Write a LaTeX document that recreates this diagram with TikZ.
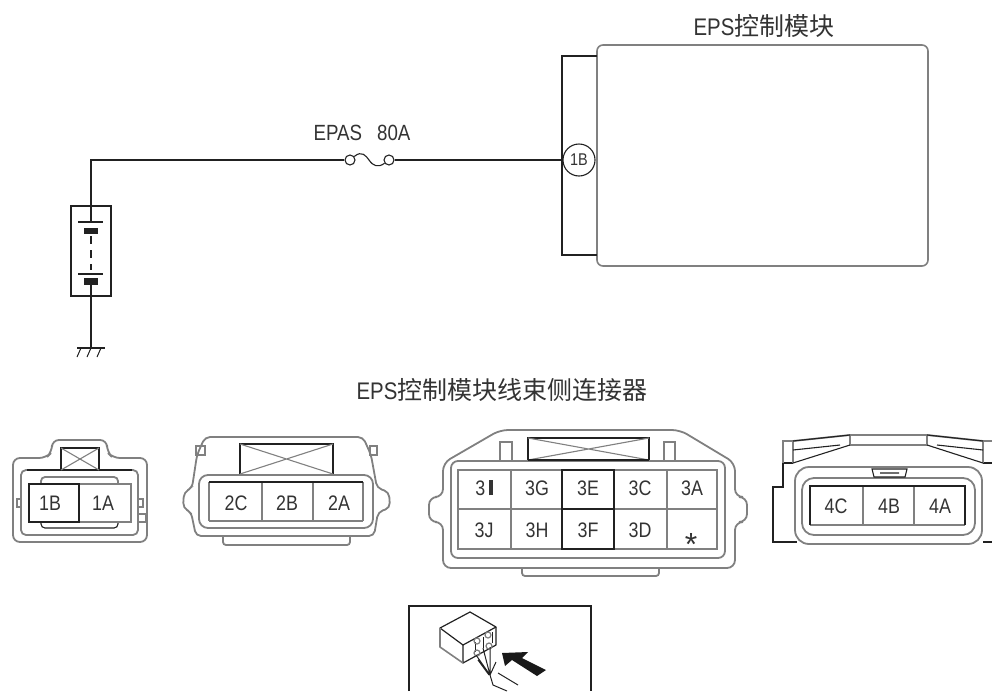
\documentclass[tikz,border=0pt]{standalone}
\usepackage{fontspec}
\setmainfont{Liberation Sans}
\newfontfamily\narrowfont{Liberation Sans}[FakeStretch=0.85]
\newfontfamily\cjk{Noto Sans CJK SC}
\definecolor{lineblack}{gray}{0.13}
\definecolor{linegray}{gray}{0.5}
\tikzset{
  wire/.style={draw=lineblack,line width=1.4pt},
  shell/.style={draw=linegray,line width=1.8pt,rounded corners=5pt},
  shellthin/.style={draw=lineblack,line width=1.1pt},
  cellbox/.style={draw=lineblack,line width=1.5pt},
  divider/.style={draw=linegray,line width=1.7pt},
  pinlabel/.style={inner sep=0pt,text=black!80,font=\narrowfont\fontsize{21}{21}\selectfont},
  caption/.style={inner sep=0pt,text=black!80,font=\narrowfont\fontsize{24}{26}\selectfont},
  terminal/.style={circle,draw=lineblack,line width=1.1pt,minimum size=10pt,inner sep=0pt,fill=white},
}
\begin{document}
\begin{tikzpicture}[x=1pt,y=-1pt]
    \useasboundingbox (0,0) rectangle (992,691);
    % control module and its connector
    \draw[draw=linegray,line width=1.6pt,rounded corners=6pt] (597,45) rectangle (928,266);
    \draw[wire] (597,56) -- (562,56) -- (562,255) -- (597,255);
    \node[caption] (moduletitle) at (764,26) {EPS{\cjk\fontsize{25}{25}\selectfont 控制模块}};
    \node[circle,draw=lineblack,line width=1.1pt,minimum size=32pt,inner sep=0pt,fill=white,
      font=\narrowfont\fontsize{17}{17}\selectfont,text=black!80] (pin1B) at (579,160) {1B};
    % fuse
    \node[terminal] (fuseL) at (350,160) {};
    \node[terminal] (fuseR) at (389,160) {};
    \node[pinlabel,font=\narrowfont\fontsize{22}{22}\selectfont] (fuselabel) at (362,133) {EPAS\hspace{15pt}80A};
    \draw[lineblack,line width=1.1pt] (fuseL) .. controls (362,150) and (366,156) .. (369,160)
      .. controls (373,166) and (378,168) .. (fuseR);
    \draw[wire] (fuseR) -- (pin1B);
    % battery
    \node[draw=lineblack,line width=1.4pt,minimum width=40pt,minimum height=90pt,inner sep=0pt] (battbox) at (91,251) {};
    \coordinate (plateA) at (91,222);
    \coordinate (plateB) at (91,285);
    \coordinate (ground) at (91,348);
    \draw[wire] (fuseL) -| (plateA);
    \draw[wire] (plateB) -- (ground);
    \draw[lineblack,line width=1.2pt] (78,222) -- (103,222);
    \fill[lineblack] (84,228) rectangle (98,233.5);
    \draw[lineblack,line width=1.4pt,dash pattern=on 8pt off 6pt] (91,236) -- (91,270);
    \draw[lineblack,line width=1.2pt] (78,274) -- (103,274);
    \fill[lineblack] (84,278) rectangle (98,285);
    \draw[lineblack,line width=1.2pt] (77,348) -- (105,348);
    \draw[lineblack,line width=1pt] (81,348) -- (77,357);
    \draw[lineblack,line width=1pt] (91,348) -- (87,357);
    \draw[lineblack,line width=1pt] (101,348) -- (97,357);
    \node[caption] (harnesstitle) at (502,390) {EPS{\cjk\fontsize{25}{25}\selectfont 控制模块线束侧连接器}};
    % connector 1
    \draw[shell,rounded corners=7pt] (13,475) -- (13,458) -- (46,458) -- (52,452) -- (52,440) -- (107,440) -- (107,452) -- (113,458) -- (147,458) -- (147,542) -- (13,542) -- cycle;
    \draw[shell] (21,470) rectangle (138,535);
    \draw[shellthin] (27,470) -- (132,470);
    \draw[shell,rounded corners=4pt] (41,484) -- (41,477) -- (118,477) -- (118,484);
    \draw[shellthin,rounded corners=4pt] (41,522) -- (41,528) -- (118,528) -- (118,522);
    \draw[shellthin,line width=1.4pt] (61,470) -- (61,448) -- (99,448) -- (99,470);
    \draw[linegray,line width=1.1pt] (61,448) -- (99,470) (99,448) -- (61,470);
    \draw[divider] (79,484) rectangle (131,522);
    \draw[cellbox] (29,484) rectangle (79,522);
    \draw[linegray,line width=1.1pt] (17,499) rectangle (21,507) (138,499) rectangle (143,507) (138,514) rectangle (146,522);
    \node[pinlabel] (c1B) at (50,503) {1B};
    \node[pinlabel] (c1A) at (103,503) {1A};
    % connector 2
    \draw[shell] (192,488) -- (197,455) -- (205,437) -- (363,437) -- (371,455) -- (377,488) -- (389,492) -- (390,508) -- (378,512) -- (374,536) -- (196,536) -- (191,512) -- (183,508) -- (184,492) -- cycle;
    \draw[shell,rounded corners=3pt] (223,536) -- (223,545) -- (350,545) -- (350,536);
    \draw[shell,rounded corners=9pt] (199,475) rectangle (373,528);
    \draw[shellthin,line width=1.3pt] (240,474) -- (240,444) -- (333,444) -- (333,474);
    \draw[linegray,line width=1.1pt] (240,444) -- (333,474) (333,444) -- (240,474);
    \draw[linegray,line width=1.1pt] (196,446) rectangle (205,455) (370,446) rectangle (377,455);
    \draw[divider] (209,521) -- (363,521) (209,482) -- (209,521) (363,482) -- (363,521) (262,482) -- (262,521) (313,482) -- (313,521);
    \draw[shellthin,line width=1.4pt] (209,482) -- (363,482);
    \node[pinlabel] (c2C) at (236,503) {2C};
    \node[pinlabel] (c2B) at (287,503) {2B};
    \node[pinlabel] (c2A) at (339,503) {2A};
    % connector 3
    \draw[shell,rounded corners=8pt] (443,497) -- (443,463) -- (500,430) -- (680,430) -- (735,463) -- (735,497) -- (747,497) -- (747,522) -- (735,522) -- (735,568) -- (443,568) -- (443,522) -- (429,522) -- (429,497) -- cycle;
    \draw[shell,rounded corners=3pt] (522,568) -- (522,576) -- (659,576) -- (659,568);
    \draw[shell,rounded corners=7pt] (451,461) rectangle (725,558);
    \draw[shellthin,line width=1.3pt] (528,460) -- (528,438) -- (649,438) -- (649,460);
    \draw[linegray,line width=1.1pt] (528,438) -- (649,460) (649,438) -- (528,460);
    \draw[shellthin] (528,460) -- (649,460);
    \draw[linegray,line width=1.1pt] (500,460) -- (500,442) -- (512,442) -- (512,460) (664,460) -- (664,442) -- (675,442) -- (675,460);
    \draw[divider] (458,470) rectangle (717,549);
    \draw[divider] (458,509) -- (717,509) (511,470) -- (511,549) (667,470) -- (667,549);
    \draw[cellbox] (562,470) rectangle (614,549);
    \draw[cellbox] (562,509) -- (614,509);
    \node[pinlabel] (c3I) at (484,488) {3\hspace{4pt}\rule[0pt]{3.5pt}{15pt}};
    \node[pinlabel] (c3G) at (537,488) {3G};
    \node[pinlabel] (c3E) at (588,488) {3E};
    \node[pinlabel] (c3C) at (640,488) {3C};
    \node[pinlabel] (c3A) at (692,488) {3A};
    \node[pinlabel] (c3J) at (484,530) {3J};
    \node[pinlabel] (c3H) at (537,530) {3H};
    \node[pinlabel] (c3F) at (588,530) {3F};
    \node[pinlabel] (c3D) at (640,530) {3D};
    \node[pinlabel,font=\fontsize{32}{32}\selectfont] (c3S) at (691,544) {*};
    % connector 4
    \draw[shell,rounded corners=14pt] (795,467) rectangle (982,544);
    \draw[shell,rounded corners=12pt] (802,478) rectangle (975,535);
    \draw[shellthin] (793,463) -- (783,463) -- (783,487) -- (773,487) -- (773,542) -- (797,542);
    \draw[linegray,line width=1.1pt] (783,463) -- (783,441) -- (793,441) -- (793,463);
    \draw[shellthin] (983,542) -- (992,542) (983,463) -- (992,463);
    \draw[linegray,line width=1.1pt] (983,463) -- (983,441) -- (992,441);
    \draw[linegray,line width=1.8pt] (793,441) -- (850,435) -- (927,435) -- (983,441) (850,435) -- (850,445) -- (927,445) -- (927,435);
    \draw[shellthin] (793,441) -- (850,435) (793,450) -- (840,445) (793,463) -- (850,445);
    \draw[shellthin] (983,441) -- (927,435) (983,450) -- (937,445) (983,463) -- (927,445);
    \draw[shellthin] (872,469) -- (907,469) -- (905,477) -- (874,477) -- cycle (880,473) -- (899,473);
    \draw[divider] (810,525) -- (965,525) (863,486) -- (863,525) (914,486) -- (914,525);
    \draw[shellthin,line width=1.4pt] (810,525) -- (810,486) -- (965,486) -- (965,525);
    \node[pinlabel] (c4C) at (836,506) {4C};
    \node[pinlabel] (c4B) at (889,506) {4B};
    \node[pinlabel] (c4A) at (940,506) {4A};
    % view direction inset
    \draw[lineblack,line width=1.5pt] (409,691) -- (409,606) -- (591,606) -- (591,691);
    \draw[lineblack,line width=1.2pt,line join=round] (440,628) -- (470,612) -- (496,627) -- (463,645) -- cycle;
    \draw[lineblack,line width=1.2pt,line join=round] (463,645) -- (463,663) -- (496,645) -- (496,627);
    \draw[linegray,line width=1.6pt,line join=round] (440,628) -- (440,647) -- (463,663);
    \draw[lineblack,line width=1pt] (475,642) -- (475,652) (483,637) -- (483,648) (492,632) -- (492,643);
    \draw[linegray,line width=1.2pt] (477,641) circle (3) (488,635) circle (3) (477,653) circle (3) (489,646) circle (3);
    \draw[lineblack,line width=1pt] (476,655) -- (490,675) -- (496,662) (483,648) -- (490,675) (478,660) -- (489,675) (490,647) -- (490,675) -- (493,685) -- (507,691) (498,673) -- (518,685);
    \fill[black!90] (502,653) -- (528,652) -- (522,658) -- (546,670) -- (537,676) -- (512,660) -- (505,666) -- cycle;
\end{tikzpicture}
\end{document}
